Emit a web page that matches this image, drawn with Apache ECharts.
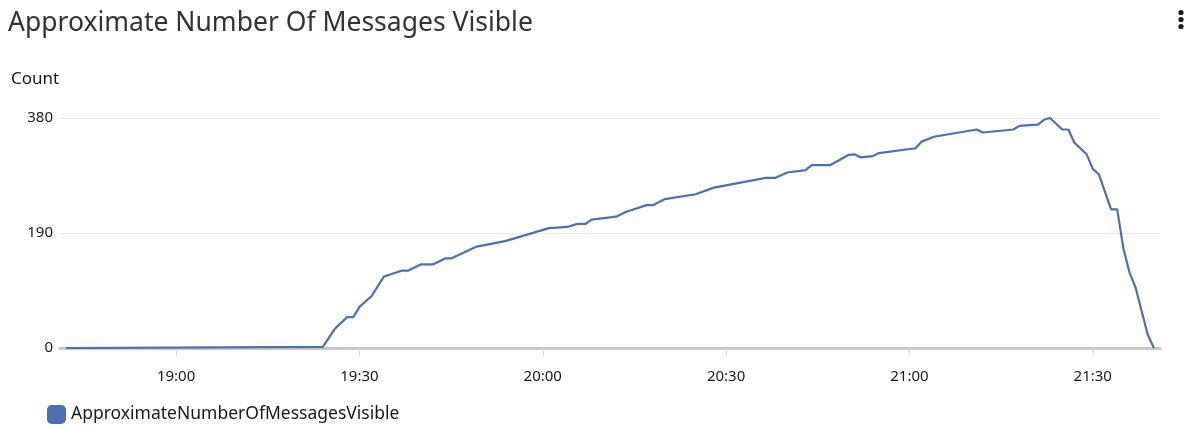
<!DOCTYPE html>
<html>
<head>
<meta charset="utf-8">
<script src="https://cdn.jsdelivr.net/npm/echarts@6/dist/echarts.min.js"></script>
<style>
html,body{margin:0;padding:0;background:#fff;}
#chart{width:1200px;height:441px;}
</style>
</head>
<body>
<div id="chart"></div>
<script>
// ---- data (times HH:mm:ss on one day) ----
const times = [
  '18:42:00','19:24:00','19:26:00','19:28:00','19:29:00','19:30:00','19:32:00','19:34:00',
  '19:37:00','19:38:00','19:40:00','19:42:00','19:44:00','19:45:00','19:49:00','19:54:00',
  '20:01:00','20:04:00','20:05:40','20:07:00','20:08:00','20:12:00','20:13:40','20:17:00',
  '20:18:00','20:20:00','20:25:00','20:28:00','20:36:30','20:38:00','20:40:00','20:43:00',
  '20:44:00','20:47:00','20:50:00','20:51:00','20:52:00','20:54:00','20:55:00','21:01:00',
  '21:02:00','21:04:00','21:11:00','21:12:00','21:17:00','21:18:00','21:21:00','21:22:00',
  '21:23:00','21:25:00','21:26:00','21:27:00','21:29:00','21:30:00','21:31:00','21:33:00',
  '21:34:00','21:35:00','21:36:00','21:37:00','21:39:00','21:40:00'
];
const visible = [
  0,2,32,51,51,68,86,118,
  128,128,138,138,148,148,167,177,
  198,200,205,205,212,217,225,236,
  236,246,254,265,281,281,290,294,
  302,302,319,320,315,317,322,330,
  341,349,361,356,361,367,369,377,
  380,361,361,339,320,296,287,229,
  229,165,125,100,22,0
];
const seriesName = 'ApproximateNumberOfMessagesVisible';
const chartTitle = 'Approximate Number Of Messages Visible';
const yAxisLabel = 'Count';
const xTickLabels = ['19:00','19:30','20:00','20:30','21:00','21:30'];
const xRange = ['18:41:00','21:41:00'];
const yTicks = [0,190,380];

function ts(hms){
  const p = hms.split(':').map(Number);
  return new Date(2023,0,1,p[0],p[1],p[2]||0).getTime();
}
const seriesData = times.map((t,i)=>[ts(t), visible[i]]);
const tickValues = xTickLabels.map(t=>ts(t+':00'));
function fmt(v){const d=new Date(v);return String(d.getHours()).padStart(2,'0')+':'+String(d.getMinutes()).padStart(2,'0');}

const chart = echarts.init(document.getElementById('chart'), null, {renderer:'canvas'});
const font = '"Noto Sans", "Open Sans", sans-serif';
chart.setOption({
  animation:false,
  backgroundColor:'#ffffff',
  textStyle:{fontFamily:font},
  title:[
    {text:chartTitle, left:3, top:5, textStyle:{fontFamily:font, fontSize:26.5, fontWeight:'normal', color:'#333333'}},
    {text:yAxisLabel, left:6, top:66, textStyle:{fontFamily:font, fontSize:17, fontWeight:'normal', color:'#16191f'}}
  ],
  grid:{left:60, right:40, top:118, bottom:93, containLabel:false},
  legend:{
    left:42, top:400, icon:'roundRect', itemWidth:19, itemHeight:19, itemGap:10,
    textStyle:{fontFamily:font, fontSize:17.5, color:'#16191f'},
    data:[seriesName]
  },
  xAxis:{
    type:'value',
    min:ts(xRange[0]), max:ts(xRange[1]),
    axisLine:{show:true, onZero:false, lineStyle:{color:'#c8c8c8', width:3}},
    axisTick:{show:true, customValues:tickValues, length:8, lineStyle:{color:'#dcdcdc', width:1}},
    axisLabel:{customValues:tickValues, fontFamily:font, fontSize:15, color:'#16191f', margin:21, formatter:fmt},
    splitLine:{show:false}
  },
  yAxis:{
    type:'value', min:yTicks[0], max:yTicks[yTicks.length-1], interval:yTicks[1]-yTicks[0],
    axisLine:{show:false}, axisTick:{show:false},
    axisLabel:{fontFamily:font, fontSize:15, color:'#16191f', margin:7},
    splitLine:{show:true, lineStyle:{color:'#e9ebed', width:1}}
  },
  series:[{
    name:seriesName, type:'line', data:seriesData, showSymbol:false, symbol:'none',
    color:'#4d70ae',
    lineStyle:{color:'#4d70ae', width:2.2}
  }],
  graphic:[
    {type:'circle', shape:{cx:1181, cy:12.5, r:2.6}, style:{fill:'#1b1b1b'}},
    {type:'circle', shape:{cx:1181, cy:19.5, r:2.6}, style:{fill:'#1b1b1b'}},
    {type:'circle', shape:{cx:1181, cy:26.5, r:2.6}, style:{fill:'#1b1b1b'}}
  ]
});
</script>
</body>
</html>
